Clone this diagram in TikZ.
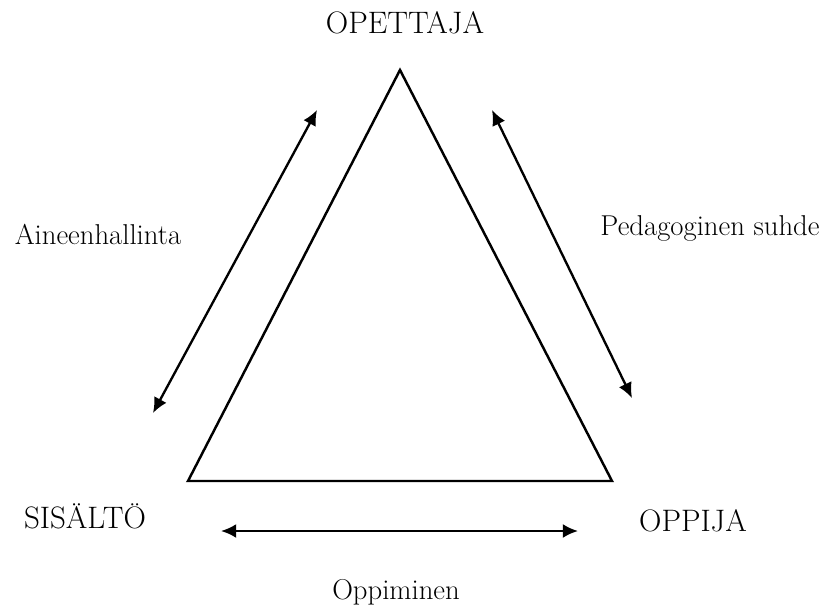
\documentclass[tikz,border=0pt]{standalone}
\usepackage{tikz}
\usetikzlibrary{arrows.meta}

\begin{document}
\begin{tikzpicture}[x=0.03cm,y=-0.03cm,
    big/.style = {font=\fontsize{26.5}{32}\selectfont, inner sep=0pt, anchor=base},
    small/.style = {font=\fontsize{24.5}{29}\selectfont, inner sep=0pt, anchor=base},
    side/.style = {line width=2.1pt},
    link/.style = {line width=2pt, {Latex[length=13pt,width=12pt]}-{Latex[length=13pt,width=12pt]}}]
    \useasboundingbox (0,0) rectangle (831,613);
    \coordinate (T) at (400,70);
    \coordinate (L) at (188,481);
    \coordinate (R) at (612,481);
    \draw[side, line join=miter] (T) -- (L) -- (R) -- cycle;

    \node[big] (opettaja) at (405,33) {OPETTAJA};
    \node[big] (sisalto) at (85,528) {SISÄLTÖ};
    \node[big] (oppija) at (693,531) {OPPIJA};

    \node[small] (aine) at (98,244) {Aineenhallinta};
    \node[small] (peda) at (710,235) {Pedagoginen suhde};
    \node[small] (oppi) at (396,599) {Oppiminen};

    \coordinate (a1) at (317,110);
    \coordinate (a2) at (153,413);
    \coordinate (b1) at (492,110);
    \coordinate (b2) at (632,398);
    \coordinate (c1) at (221,531);
    \coordinate (c2) at (578,531);
    \draw[link] (a1) -- (a2);
    \draw[link] (b1) -- (b2);
    \draw[link] (c1) -- (c2);
\end{tikzpicture}
\end{document}
